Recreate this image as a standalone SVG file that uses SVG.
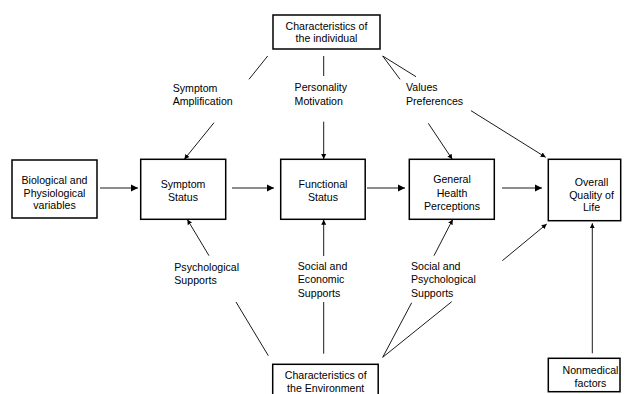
<svg xmlns="http://www.w3.org/2000/svg" width="626" height="394" viewBox="0 0 626 394">
<defs>
<style>
.box{fill:#fff;stroke:#000;stroke-width:1.5}
text{font-family:"Liberation Sans",Arial,sans-serif;font-size:10.6px;fill:#000}
.c{text-anchor:middle}
.ln{stroke:#000;stroke-width:0.9;fill:none}
.h{marker-end:url(#big)}
.a{marker-end:url(#sm)}
</style>
<marker id="big" markerUnits="userSpaceOnUse" markerWidth="8" markerHeight="8" refX="7" refY="4" orient="auto"><path d="M0,0.5 L7,4 L0,7.5 z" fill="#000"/></marker>
<marker id="sm" markerUnits="userSpaceOnUse" markerWidth="6" markerHeight="6" refX="5" refY="3" orient="auto"><path d="M0,0.5 L5,3 L0,5.5 z" fill="#000"/></marker>
</defs>
<rect width="626" height="394" fill="#fff"/>
<g id="connectors">
<line class="ln h" x1="100" y1="188" x2="138" y2="188"/>
<line class="ln h" x1="232" y1="188" x2="274" y2="188"/>
<line class="ln h" x1="367" y1="188" x2="405" y2="188"/>
<line class="ln h" x1="502" y1="188" x2="542" y2="188"/>
<line class="ln" x1="267.7" y1="56" x2="249" y2="79.3"/>
<line class="ln a" x1="214" y1="122.7" x2="184.3" y2="159.3"/>
<line class="ln" x1="323.7" y1="56" x2="323.7" y2="76"/>
<line class="ln a" x1="323.7" y1="121.7" x2="323.7" y2="159"/>
<line class="ln" x1="382.7" y1="56" x2="400" y2="79.3"/>
<line class="ln" x1="382.7" y1="56" x2="416" y2="76.7"/>
<line class="ln a" x1="428.3" y1="123.3" x2="452.3" y2="159.3"/>
<line class="ln a" x1="471" y1="110.7" x2="545.7" y2="157.3"/>
<line class="ln a" x1="209" y1="255.7" x2="187.3" y2="219.5"/>
<line class="ln" x1="236" y1="302" x2="268.3" y2="355.7"/>
<line class="ln a" x1="323.7" y1="256" x2="323.7" y2="219.7"/>
<line class="ln" x1="323.7" y1="302" x2="323.7" y2="353.7"/>
<line class="ln a" x1="434" y1="255.7" x2="452.7" y2="219.5"/>
<line class="ln" x1="382.7" y1="357.3" x2="411.7" y2="302.7"/>
<line class="ln" x1="382.7" y1="357.3" x2="451.7" y2="301.7"/>
<line class="ln a" x1="502.3" y1="260.7" x2="546.7" y2="224"/>
<line class="ln a" x1="592.3" y1="353.3" x2="592.3" y2="223.3"/>
</g>
<g id="labels">
<text x="172.7" y="91.5">Symptom</text>
<text x="172.7" y="105">Amplification</text>
<text x="294.6" y="91">Personality</text>
<text x="294.6" y="104.5">Motivation</text>
<text x="406" y="91">Values</text>
<text x="406" y="104.5">Preferences</text>
<text x="174.3" y="271">Psychological</text>
<text x="174.3" y="284">Supports</text>
<text x="297.8" y="270">Social and</text>
<text x="297.8" y="283">Economic</text>
<text x="297.8" y="296.5">Supports</text>
<text x="411" y="270">Social and</text>
<text x="411" y="283">Psychological</text>
<text x="411" y="296.5">Supports</text>
</g>
<g id="individual">
<rect class="box" x="273" y="15" width="107" height="34"/>
<text class="c" x="326.5" y="30">Characteristics of</text>
<text class="c" x="326.5" y="42">the individual</text>
</g>
<g id="biological">
<rect class="box" x="12" y="160" width="85" height="58"/>
<text class="c" x="54.5" y="184">Biological and</text>
<text class="c" x="54.5" y="196.5">Physiological</text>
<text class="c" x="54.5" y="209">variables</text>
</g>
<g id="symptom">
<rect class="box" x="140.7" y="159.3" width="85" height="60"/>
<text class="c" x="183" y="188">Symptom</text>
<text class="c" x="183" y="201">Status</text>
</g>
<g id="functional">
<rect class="box" x="280.7" y="159.3" width="84.5" height="60"/>
<text class="c" x="323" y="188">Functional</text>
<text class="c" x="323" y="201">Status</text>
</g>
<g id="health">
<rect class="box" x="409.3" y="159.3" width="85" height="60"/>
<text class="c" x="452" y="183">General</text>
<text class="c" x="452" y="196.5">Health</text>
<text class="c" x="452" y="210">Perceptions</text>
</g>
<g id="quality">
<rect class="box" x="548.3" y="159.3" width="72.4" height="61.4"/>
<text class="c" x="591.5" y="186">Overall</text>
<text class="c" x="591.5" y="198.5">Quality of</text>
<text class="c" x="591.5" y="211">Life</text>
</g>
<g id="environment">
<rect class="box" x="272.7" y="364.3" width="105.5" height="40"/>
<text class="c" x="325.7" y="379">Characteristics of</text>
<text class="c" x="325.7" y="391.5">the Environment</text>
</g>
<g id="nonmedical">
<rect class="box" x="548.3" y="358.3" width="71.7" height="33.4"/>
<text class="c" x="590.5" y="373.8">Nonmedical</text>
<text class="c" x="590.5" y="386.5">factors</text>
</g>
</svg>
